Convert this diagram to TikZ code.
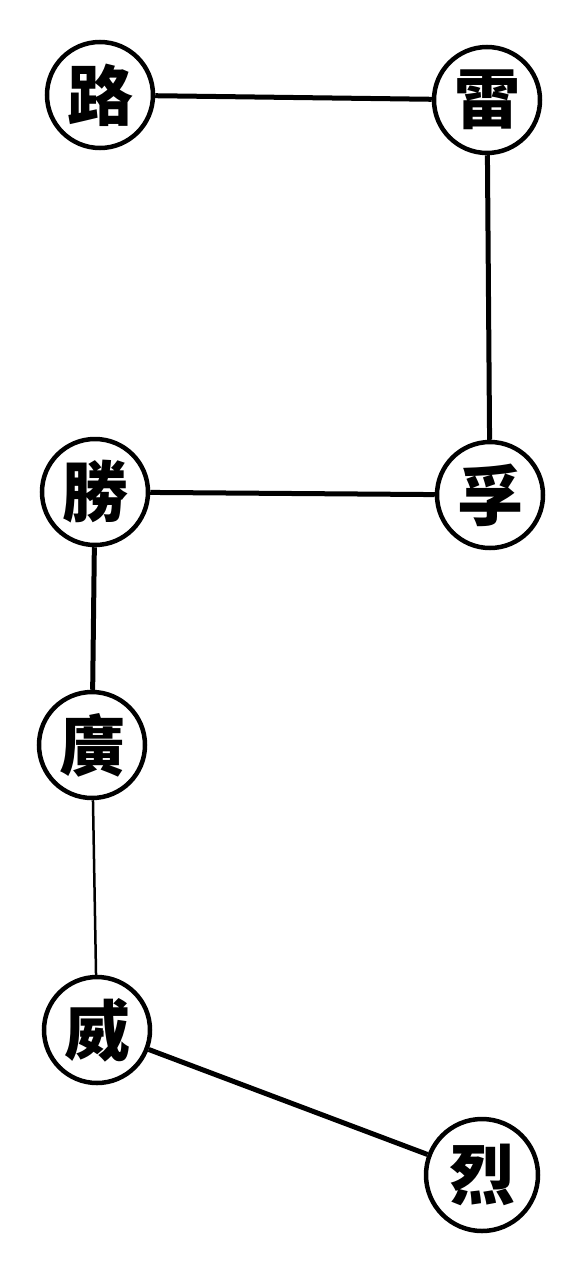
\documentclass[tikz,border=0pt]{standalone}
\usepackage{fontspec}
\newfontfamily\cjk{Noto Sans CJK TC}
\begin{document}
\begin{tikzpicture}[x=1pt,y=-1pt,
  star/.style={circle,draw=black,line width=4.5pt,minimum size=106pt,inner sep=0pt,font=\cjk\bfseries\fontsize{66}{66}\selectfont},
  link/.style={line width=5pt,black},
  thinlink/.style={line width=2.5pt,black}]
\useasboundingbox (0,0) rectangle (580,1269);
\node[star] (lu) at (100,95) {路};
\node[star] (lei) at (487,100) {雷};
\node[star] (sheng) at (95,492) {勝};
\node[star] (fu) at (490,495) {孚};
\node[star] (guang) at (92,745) {廣};
\node[star] (wei) at (97,1030) {威};
\node[star,minimum size=112pt] (lie) at (482,1175) {烈};
\draw[link] (lu) -- (lei);
\draw[link] (lei) -- (fu);
\draw[link] (fu) -- (sheng);
\draw[link] (sheng) -- (guang);
\draw[thinlink] (guang) -- (wei);
\draw[link] (wei) -- (lie);
\end{tikzpicture}
\end{document}
